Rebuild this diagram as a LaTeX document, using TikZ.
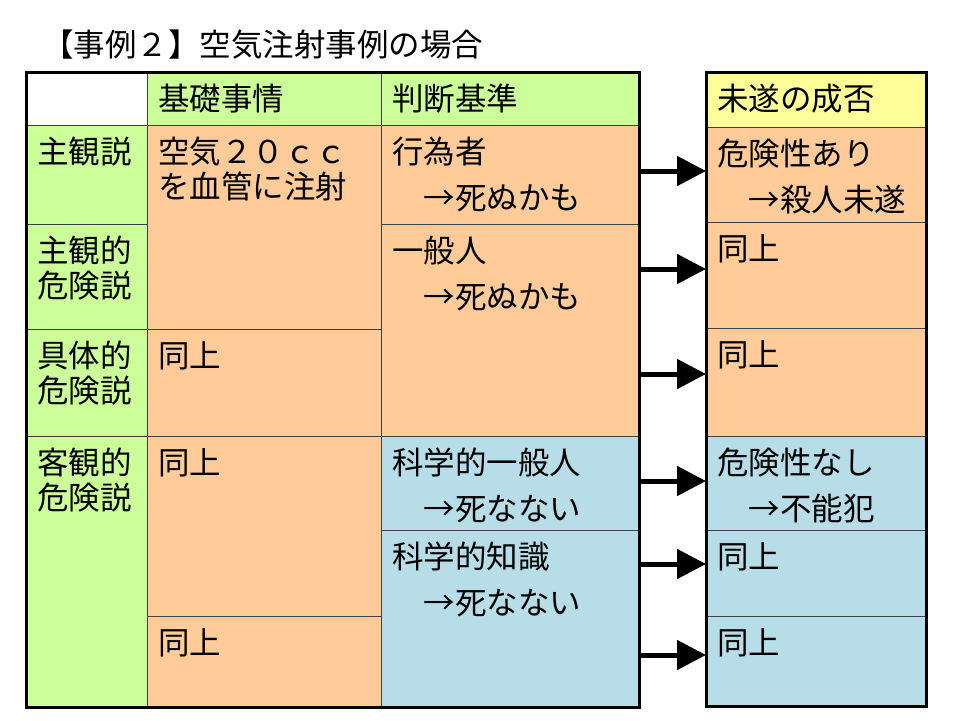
\documentclass[tikz,border=0pt]{standalone}
\usepackage{fontspec}
\setmainfont{Noto Sans CJK JP}
\usetikzlibrary{arrows.meta}
\definecolor{hdrgreen}{RGB}{204,255,153}
\definecolor{cellorange}{RGB}{255,204,153}
\definecolor{cellblue}{RGB}{183,222,232}
\definecolor{hdryellow}{RGB}{255,255,153}
\tikzstyle{cell} = [rectangle, draw=black!75, line width=0.8pt, anchor=north west, inner sep=0pt, outer sep=0pt]
\tikzstyle{txt} = [anchor=north west, inner sep=0pt, align=left, xshift=11pt, yshift=-12pt]
\tikzstyle{frame} = [line width=3pt]
\tikzstyle{arrow} = [line width=5pt, -{Triangle[length=29pt,width=29pt]}]

\begin{document}
\begin{tikzpicture}[x=1pt, y=-1pt, font=\fontsize{31.5}{35}\selectfont]
\useasboundingbox (0,0) rectangle (960,720);

\node [anchor=west, inner sep=0pt] (title) at (42,45) {【事例２】空気注射事例の場合};

% theories
\node [cell, fill=white, minimum width=121pt, minimum height=53pt] (corner) at (26,72) {};
\node [cell, fill=hdrgreen, minimum width=121pt, minimum height=99pt] (subj) at (26,125) {};
\node [cell, fill=hdrgreen, minimum width=121pt, minimum height=105pt] (subjd) at (26,224) {};
\node [cell, fill=hdrgreen, minimum width=121pt, minimum height=107pt] (concd) at (26,329) {};
\node [cell, fill=hdrgreen, minimum width=121pt, minimum height=271pt] (objd) at (26,436) {};

% basic facts
\node [cell, fill=hdrgreen, minimum width=234pt, minimum height=53pt] (basehd) at (147,72) {};
\node [cell, fill=cellorange, minimum width=234pt, minimum height=204pt] (base1) at (147,125) {};
\node [cell, fill=cellorange, minimum width=234pt, minimum height=107pt] (base2) at (147,329) {};
\node [cell, fill=cellorange, minimum width=234pt, minimum height=180pt] (base3) at (147,436) {};
\node [cell, fill=cellorange, minimum width=234pt, minimum height=91pt] (base4) at (147,616) {};

% judgement standard
\node [cell, fill=hdrgreen, minimum width=258pt, minimum height=53pt] (judgehd) at (381,72) {};
\node [cell, fill=cellorange, minimum width=258pt, minimum height=99pt] (judge1) at (381,125) {};
\node [cell, fill=cellorange, minimum width=258pt, minimum height=212pt] (judge2) at (381,224) {};
\node [cell, fill=cellblue, minimum width=258pt, minimum height=94pt] (judge3) at (381,436) {};
\node [cell, fill=cellblue, minimum width=258pt, minimum height=177pt] (judge4) at (381,530) {};

% result
\node [cell, fill=hdryellow, minimum width=220pt, minimum height=55pt] (reshd) at (706,72) {};
\node [cell, fill=cellorange, minimum width=220pt, minimum height=95pt] (res1) at (706,127) {};
\node [cell, fill=cellorange, minimum width=220pt, minimum height=106pt] (res2) at (706,222) {};
\node [cell, fill=cellorange, minimum width=220pt, minimum height=108pt] (res3) at (706,328) {};
\node [cell, fill=cellblue, minimum width=220pt, minimum height=94pt] (res4) at (706,436) {};
\node [cell, fill=cellblue, minimum width=220pt, minimum height=86pt] (res5) at (706,530) {};
\node [cell, fill=cellblue, minimum width=220pt, minimum height=90pt] (res6) at (706,616) {};

\draw [frame] (corner.north west) rectangle (judge4.south east);
\draw [frame] (reshd.north west) rectangle (res6.south east);

% texts
\node [txt] (tsubj) at (subj.north west) {主観説};
\node [txt] (tsubjd) at (subjd.north west) {主観的\\危険説};
\node [txt] (tconcd) at (concd.north west) {具体的\\危険説};
\node [txt] (tobjd) at (objd.north west) {客観的\\危険説};
\node [txt] (tbasehd) at (basehd.north west) {基礎事情};
\node [txt] (tbase1) at (base1.north west) {空気２０ｃｃ\\を血管に注射};
\node [txt] (tbase2) at (base2.north west) {同上};
\node [txt] (tbase3) at (base3.north west) {同上};
\node [txt] (tbase4) at (base4.north west) {同上};
\node [txt] (tjudgehd) at (judgehd.north west) {判断基準};
\node [txt] (tjudge1) at (judge1.north west) {行為者\\[11pt]　→死ぬかも};
\node [txt] (tjudge2) at (judge2.north west) {一般人\\[11pt]　→死ぬかも};
\node [txt] (tjudge3) at (judge3.north west) {科学的一般人\\[11pt]　→死なない};
\node [txt] (tjudge4) at (judge4.north west) {科学的知識\\[11pt]　→死なない};
\node [txt] (treshd) at (reshd.north west) {未遂の成否};
\node [txt] (tres1) at (res1.north west) {危険性あり\\[11pt]　→殺人未遂};
\node [txt] (tres2) at (res2.north west) {同上};
\node [txt] (tres3) at (res3.north west) {同上};
\node [txt] (tres4) at (res4.north west) {危険性なし\\[11pt]　→不能犯};
\node [txt] (tres5) at (res5.north west) {同上};
\node [txt] (tres6) at (res6.north west) {同上};

% arrows
\foreach \j/\r/\s in {judge1/res1/3.5, judge2/res2/6, judge2/res3/8, judge3/res4/2, judge4/res5/9, judge4/res6/6}
  \draw [arrow] ([yshift=\s pt]\r.west -| \j.east) -- ([yshift=\s pt]\r.west);

\end{tikzpicture}
\end{document}
